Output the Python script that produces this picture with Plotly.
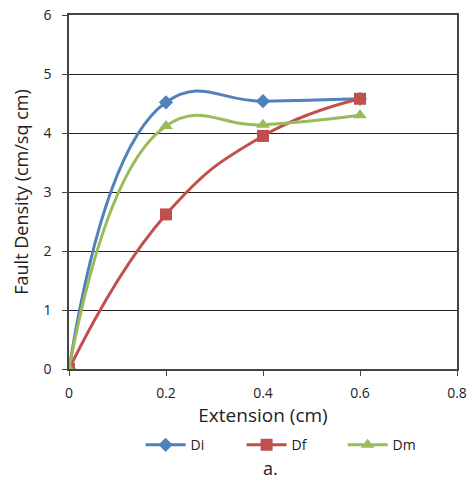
import plotly.graph_objects as go

extension = [0, 0.2, 0.4, 0.6]
di = [0, 4.52, 4.54, 4.58]
df = [0, 2.62, 3.95, 4.58]
dm = [0, 4.12, 4.14, 4.30]

series = [
    ("Di", di, "#4F81BD", "diamond", 11),
    ("Df", df, "#C0504D", "square", 12),
    ("Dm", dm, "#9BBB59", "triangle-up", 12),
]

fig = go.Figure()
for name, ys, color, sym, size in series:
    fig.add_trace(go.Scatter(
        x=extension, y=ys, name=name, mode="lines+markers",
        line=dict(color=color, width=3, shape="spline", smoothing=1.3),
        marker=dict(symbol=sym, size=size, color=color),
    ))

font = "Open Sans, DejaVu Sans, sans-serif"
fig.update_layout(
    width=469, height=480,
    margin=dict(l=69, r=12, t=15, b=111, autoexpand=False),
    paper_bgcolor="white", plot_bgcolor="white",
    font=dict(family=font, size=14, color="#222"),
    showlegend=True,
    legend=dict(orientation="h", x=0.575, xanchor="center", y=-0.17, yanchor="top",
                font=dict(size=14), itemwidth=40, entrywidth=46, entrywidthmode="pixels"),
    xaxis=dict(range=[0, 0.8], tickvals=[0, 0.2, 0.4, 0.6, 0.8],
               ticktext=["0", "0.2", "0.4", "0.6", "0.8"], automargin=False,
               showgrid=False, zeroline=False, showline=True, linecolor="#444",
               linewidth=1.5, mirror=True, ticks="outside", ticklen=5, tickcolor="#444",
               ticklabelstandoff=5,
               title=dict(text="Extension (cm)", font=dict(size=19), standoff=5)),
    yaxis=dict(range=[0, 6], tickvals=[0, 1, 2, 3, 4, 5, 6], automargin=False,
               showgrid=True, gridcolor="#222", gridwidth=1, zeroline=False,
               showline=True, linecolor="#444", linewidth=1.5, mirror=True,
               ticks="outside", ticklen=5, tickcolor="#444", ticklabelstandoff=8,
               title=dict(text="Fault Density (cm/sq cm)", font=dict(size=18), standoff=10)),
)
fig.add_annotation(text="a.", xref="paper", yref="paper", x=0.52, y=-0.24,
                   xanchor="center", yanchor="top", showarrow=False, font=dict(size=18))
fig.write_html("out.html")
